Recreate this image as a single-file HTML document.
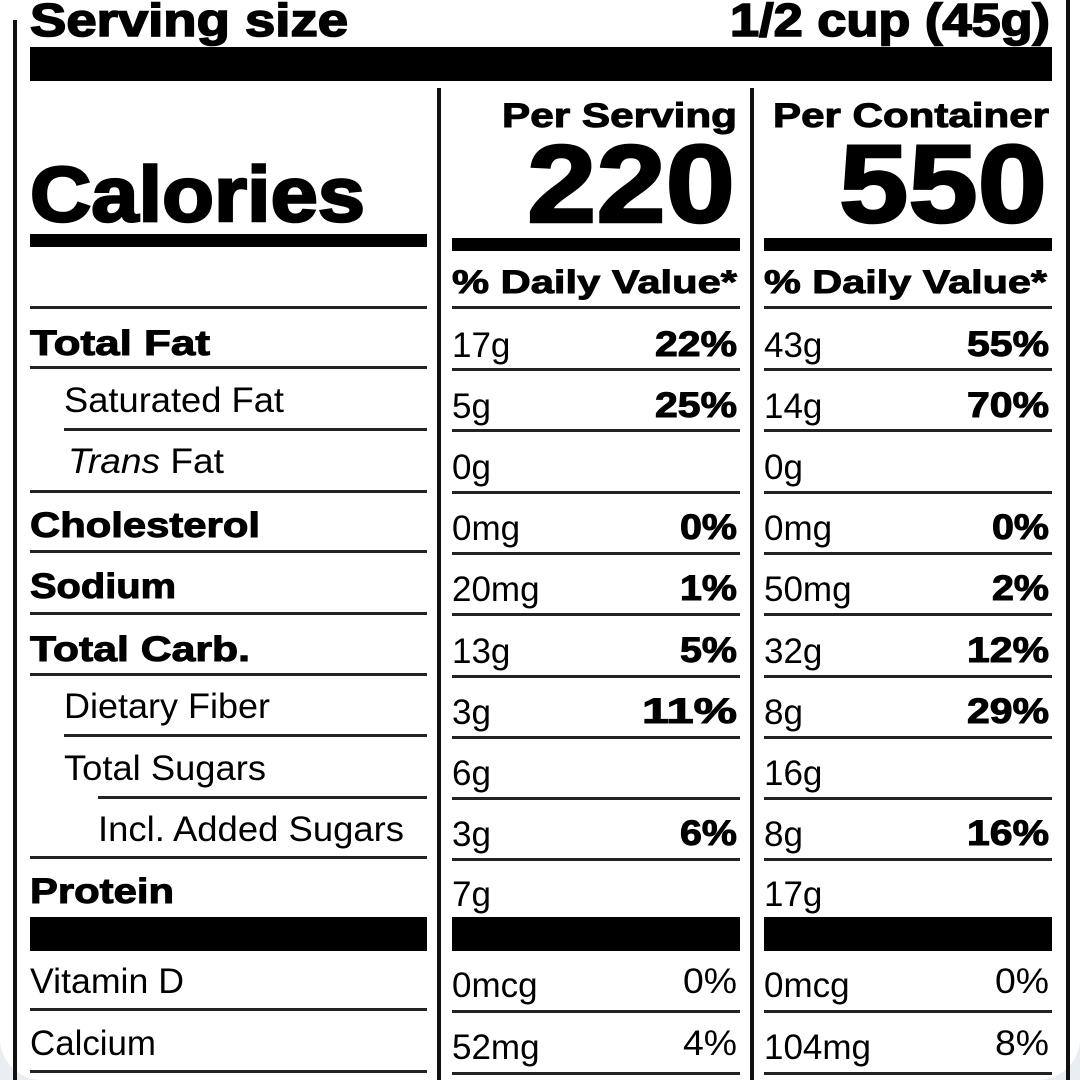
<!DOCTYPE html>
<html><head><meta charset="utf-8"><style>
html,body{margin:0;padding:0;background:#e9eef3;}
svg{display:block}
text{font-family:"Liberation Sans",Arial,sans-serif;fill:#000}
.b{font-weight:bold}
</style></head><body>
<svg width="1080" height="1080" viewBox="0 0 1080 1080">
<rect x="0" y="-40" width="1080" height="1120" rx="42" fill="#fff"/>
<rect x="13" y="20" width="4" height="1060" fill="#111"/>
<rect x="1066" y="0" width="4" height="1080" fill="#111"/>
<text x="30" y="36" class="b" font-size="46" stroke="#000" stroke-width="1.6" textLength="318" lengthAdjust="spacingAndGlyphs">Serving size</text>
<text x="730" y="36" class="b" font-size="46" stroke="#000" stroke-width="1.6" textLength="320" lengthAdjust="spacingAndGlyphs">1/2 cup (45g)</text>
<rect x="30" y="47" width="1022" height="34" fill="#000"/>
<rect x="437" y="88" width="4" height="992" fill="#111"/>
<rect x="750" y="88" width="4" height="992" fill="#111"/>
<text x="30" y="221" class="b" font-size="78" stroke="#000" stroke-width="2.5" textLength="335" lengthAdjust="spacingAndGlyphs">Calories</text>
<text x="502" y="127" class="b" font-size="34" stroke="#000" stroke-width="1" textLength="235" lengthAdjust="spacingAndGlyphs">Per Serving</text>
<text x="773" y="127" class="b" font-size="34" stroke="#000" stroke-width="1" textLength="276" lengthAdjust="spacingAndGlyphs">Per Container</text>
<text x="527" y="222" class="b" font-size="110" stroke="#000" stroke-width="2.5" textLength="208" lengthAdjust="spacingAndGlyphs">220</text>
<text x="839" y="222" class="b" font-size="110" stroke="#000" stroke-width="2.5" textLength="208" lengthAdjust="spacingAndGlyphs">550</text>
<rect x="30" y="234" width="397" height="13" fill="#000"/>
<rect x="452" y="238" width="288" height="13" fill="#000"/>
<rect x="764" y="238" width="288" height="13" fill="#000"/>
<text x="452" y="293" class="b" font-size="32" stroke="#000" stroke-width="0.9" textLength="285" lengthAdjust="spacingAndGlyphs">% Daily Value*</text>
<text x="764" y="293" class="b" font-size="32" stroke="#000" stroke-width="0.9" textLength="283" lengthAdjust="spacingAndGlyphs">% Daily Value*</text>
<g fill="#222">
<rect x="30" y="306" width="397" height="3"/><rect x="452" y="306" width="288" height="3"/><rect x="764" y="306" width="288" height="3"/>
<rect x="30" y="366" width="397" height="3"/><rect x="452" y="368" width="288" height="3"/><rect x="764" y="368" width="288" height="3"/>
<rect x="64" y="428" width="363" height="3"/><rect x="452" y="429" width="288" height="3"/><rect x="764" y="429" width="288" height="3"/>
<rect x="30" y="490" width="397" height="3"/><rect x="452" y="491" width="288" height="3"/><rect x="764" y="491" width="288" height="3"/>
<rect x="30" y="550" width="397" height="3"/><rect x="452" y="552" width="288" height="3"/><rect x="764" y="552" width="288" height="3"/>
<rect x="30" y="612" width="397" height="3"/><rect x="452" y="613" width="288" height="3"/><rect x="764" y="613" width="288" height="3"/>
<rect x="30" y="673" width="397" height="3"/><rect x="452" y="675" width="288" height="3"/><rect x="764" y="675" width="288" height="3"/>
<rect x="64" y="734" width="363" height="3"/><rect x="452" y="736" width="288" height="3"/><rect x="764" y="736" width="288" height="3"/>
<rect x="98" y="796" width="329" height="3"/><rect x="452" y="797" width="288" height="3"/><rect x="764" y="797" width="288" height="3"/>
<rect x="30" y="856" width="397" height="3"/><rect x="452" y="858" width="288" height="3"/><rect x="764" y="858" width="288" height="3"/>
<rect x="30" y="1008" width="397" height="3"/><rect x="452" y="1010" width="288" height="3"/><rect x="764" y="1010" width="288" height="3"/>
<rect x="30" y="1070" width="397" height="3"/><rect x="452" y="1072" width="288" height="3"/><rect x="764" y="1072" width="288" height="3"/>
</g>
<rect x="30" y="917" width="397" height="34" fill="#000"/>
<rect x="452" y="917" width="288" height="34" fill="#000"/>
<rect x="764" y="917" width="288" height="34" fill="#000"/>
<g font-size="35" class="b" stroke="#000" stroke-width="1">
<text x="30" y="355" textLength="180" lengthAdjust="spacingAndGlyphs">Total Fat</text>
<text x="30" y="537" textLength="230" lengthAdjust="spacingAndGlyphs">Cholesterol</text>
<text x="30" y="598" textLength="146" lengthAdjust="spacingAndGlyphs">Sodium</text>
<text x="30" y="661" textLength="220" lengthAdjust="spacingAndGlyphs">Total Carb.</text>
<text x="30" y="903" textLength="144" lengthAdjust="spacingAndGlyphs">Protein</text>
</g>
<g font-size="35">
<text x="64" y="412" textLength="220" lengthAdjust="spacingAndGlyphs">Saturated Fat</text>
<text x="68" y="473" textLength="156" lengthAdjust="spacingAndGlyphs"><tspan font-style="italic">Trans</tspan> Fat</text>
<text x="64" y="718" textLength="206" lengthAdjust="spacingAndGlyphs">Dietary Fiber</text>
<text x="64" y="780" textLength="202" lengthAdjust="spacingAndGlyphs">Total Sugars</text>
<text x="98" y="841" textLength="306" lengthAdjust="spacingAndGlyphs">Incl. Added Sugars</text>
<text x="30" y="993" textLength="154" lengthAdjust="spacingAndGlyphs">Vitamin D</text>
<text x="30" y="1055" textLength="126" lengthAdjust="spacingAndGlyphs">Calcium</text>
</g>
<g font-size="35">
<text x="452" y="357">17g</text><text x="764" y="357">43g</text>
<text x="452" y="418">5g</text><text x="764" y="418">14g</text>
<text x="452" y="479">0g</text><text x="764" y="479">0g</text>
<text x="452" y="540">0mg</text><text x="764" y="540">0mg</text>
<text x="452" y="601">20mg</text><text x="764" y="601">50mg</text>
<text x="452" y="663">13g</text><text x="764" y="663">32g</text>
<text x="452" y="724">3g</text><text x="764" y="724">8g</text>
<text x="452" y="785">6g</text><text x="764" y="785">16g</text>
<text x="452" y="846">3g</text><text x="764" y="846">8g</text>
<text x="452" y="906">7g</text><text x="764" y="906">17g</text>
<text x="452" y="997">0mcg</text><text x="764" y="997">0mcg</text>
<text x="452" y="1059">52mg</text><text x="764" y="1059">104mg</text>
<text x="683" y="993" textLength="54" lengthAdjust="spacingAndGlyphs">0%</text><text x="995" y="993" textLength="54" lengthAdjust="spacingAndGlyphs">0%</text>
<text x="683" y="1055" textLength="54" lengthAdjust="spacingAndGlyphs">4%</text><text x="995" y="1055" textLength="54" lengthAdjust="spacingAndGlyphs">8%</text>
</g>
<g font-size="35" class="b" stroke="#000" stroke-width="1">
<text x="655" y="356" textLength="82" lengthAdjust="spacingAndGlyphs">22%</text><text x="967" y="356" textLength="82" lengthAdjust="spacingAndGlyphs">55%</text>
<text x="655" y="417" textLength="82" lengthAdjust="spacingAndGlyphs">25%</text><text x="967" y="417" textLength="82" lengthAdjust="spacingAndGlyphs">70%</text>
<text x="680" y="539" textLength="57" lengthAdjust="spacingAndGlyphs">0%</text><text x="992" y="539" textLength="57" lengthAdjust="spacingAndGlyphs">0%</text>
<text x="680" y="600" textLength="57" lengthAdjust="spacingAndGlyphs">1%</text><text x="992" y="600" textLength="57" lengthAdjust="spacingAndGlyphs">2%</text>
<text x="680" y="662" textLength="57" lengthAdjust="spacingAndGlyphs">5%</text><text x="967" y="662" textLength="82" lengthAdjust="spacingAndGlyphs">12%</text>
<text x="642" y="723" textLength="95" lengthAdjust="spacingAndGlyphs">11%</text><text x="967" y="723" textLength="82" lengthAdjust="spacingAndGlyphs">29%</text>
<text x="680" y="845" textLength="57" lengthAdjust="spacingAndGlyphs">6%</text><text x="967" y="845" textLength="82" lengthAdjust="spacingAndGlyphs">16%</text>
</g>
</svg>
</body></html>
